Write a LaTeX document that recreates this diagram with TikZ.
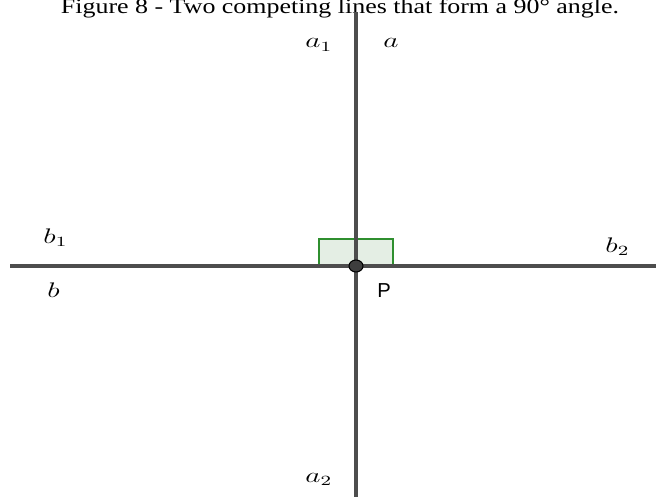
\documentclass[tikz,border=0pt]{standalone}
\usepackage{amsmath,amssymb}
\usepackage{fontspec}
\setmainfont{Liberation Serif}
\newfontfamily\labelsans{Liberation Sans}
\usetikzlibrary{positioning,calc}

\definecolor{linegray}{HTML}{4D4D4D}
\definecolor{anglegreen}{HTML}{2F8F2F}
\definecolor{anglefill}{HTML}{E4EEE4}

\tikzset{
  axis line/.style={draw=linegray, line width=1.8pt},
  lbl/.style={anchor=base west, inner sep=0pt, xscale=1.4, font=\fontsize{11.5}{13}\selectfont}
}

\begin{document}
\begin{tikzpicture}[x=0.02cm,y=-0.02cm]

\useasboundingbox (0,0) rectangle (656,497);

\node[anchor=base, inner sep=0pt, xscale=1.23, font=\fontsize{12}{14}\selectfont] (cap) at (340,13)
  {Figure 8 - Two competing lines that form a 90\textdegree{} angle.};

% the two lines
\coordinate (atop) at (356,12);
\coordinate (abot) at (356,497);
\coordinate (bleft) at (10,266);
\coordinate (bright) at (656,266);
\coordinate (P) at (356,266);

% right angle mark
\draw[anglegreen, line width=1.5pt, fill=anglefill] (319,239) rectangle (393,266);

\draw[axis line] (atop) -- (abot);
\draw[axis line] (bleft) -- (bright);

\fill[linegray!80!black] (P) ellipse (7 and 6);
\draw[black, line width=0.6pt] (P) ellipse (7 and 6);

\node[lbl] (a1) at (305,48) {$a_1$};
\node[lbl] (a) at (383,48) {$a$};
\node[lbl] (a2) at (305,482) {$a_2$};
\node[lbl] (b1) at (43,243) {$b_1$};
\node[lbl] (b) at (47,297) {$b$};
\node[lbl] (b2) at (605,252) {$b_2$};
\node[lbl, xscale=1/1.4, font=\labelsans\fontsize{11.5}{13}\selectfont] (Plbl) at (377,297) {P};

\end{tikzpicture}
\end{document}
